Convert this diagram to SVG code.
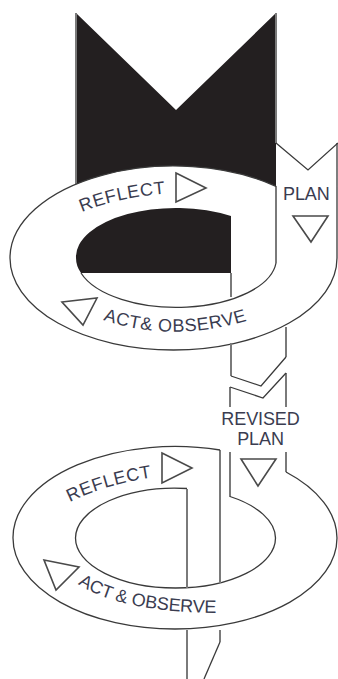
<svg xmlns="http://www.w3.org/2000/svg" width="338" height="679" viewBox="0 0 338 679">
<style>
.l{fill:none;stroke:#3a3a3a;stroke-width:1.3}
.g{fill:none;stroke:#7a7a7a;stroke-width:2}
.t{fill:none;stroke:#4a4a4a;stroke-width:1.6}
.k{fill:#231f20;stroke:none}
text{font-family:"Liberation Sans",Arial,sans-serif;font-size:18px;fill:#3a3c50;letter-spacing:-.1px}
.s{letter-spacing:.6px}
</style>
<defs>
<path id="p1" d="M82 212Q118 197 172 193"/>
<path id="p2" d="M103 320Q175 344 252 319"/>
<path id="p3" d="M70 502Q108 483 162 476"/>
<path id="p4" d="M78 584Q120 612 218 613"/>
</defs>
<rect width="338" height="679" fill="#fff"/>
<g id="connectors">
<path class="k" d="M76 13L176 110L276 13V186.300A163.500 92 0 0 0 76 184.200Z"/>
<path class="k" d="M231 216A100 49 0 0 0 76 258Q76 266 81 273H231Z"/>
<path class="g" d="M76 13V184M276 13V143M276 186V263"/>
<path class="l" d="M276 143L308 170L338 143"/>
<path class="g" d="M231 273V297"/>
<path class="l" d="M81 273A100 49 0 0 0 276 263"/>
<path class="l" d="M276 186.300A163.500 92 0 0 0 10 258A163.500 92 0 0 0 337 258V143"/>
<path class="g" d="M231 343V376M230 387V407M230 452V497"/>
<path class="g" d="M286 327V357M286 373V407M286 452V472"/>
<path class="l" d="M231 376L261 386L286 357M230 387L263 398L286 373"/>
<path class="l" d="M230 496.500A100 50 0 0 1 275.500 538A100 50 0 0 1 75.500 538A100 50 0 0 1 187 488.500"/>
<path class="g" d="M187 489V588M220 450V583M187 630V679M220 630V642"/>
<path class="l" d="M220 642L204 679"/>
<path class="l" d="M286 472A162 91 0 0 1 337 538A162 91 0 0 1 13 538A162 91 0 0 1 220 450"/>
</g>
<g id="reflect-1"><text class="s"><textPath href="#p1">REFLECT</textPath></text><path class="t" d="M176 173L206 188L176 202Z"/></g>
<g id="plan-1"><text x="283" y="200">PLAN</text><path class="t" d="M293 216H328L311 242Z"/></g>
<g id="act-1"><text class="s"><textPath href="#p2">ACT&amp; OBSERVE</textPath></text><path class="t" d="M62 302L97 298L83 325Z"/></g>
<g id="revised"><text x="260.500" y="425" text-anchor="middle">REVISED</text><text x="260.500" y="445" text-anchor="middle">PLAN</text><path class="t" d="M241 459H276L258 486Z"/></g>
<g id="reflect-2"><text class="s"><textPath href="#p3">REFLECT</textPath></text><path class="t" d="M162 453L192 468L162 483Z"/></g>
<g id="act-2"><text><textPath href="#p4">ACT &amp; OBSERVE</textPath></text><path class="t" d="M44 560L79 567L56 590Z"/></g>
</svg>
